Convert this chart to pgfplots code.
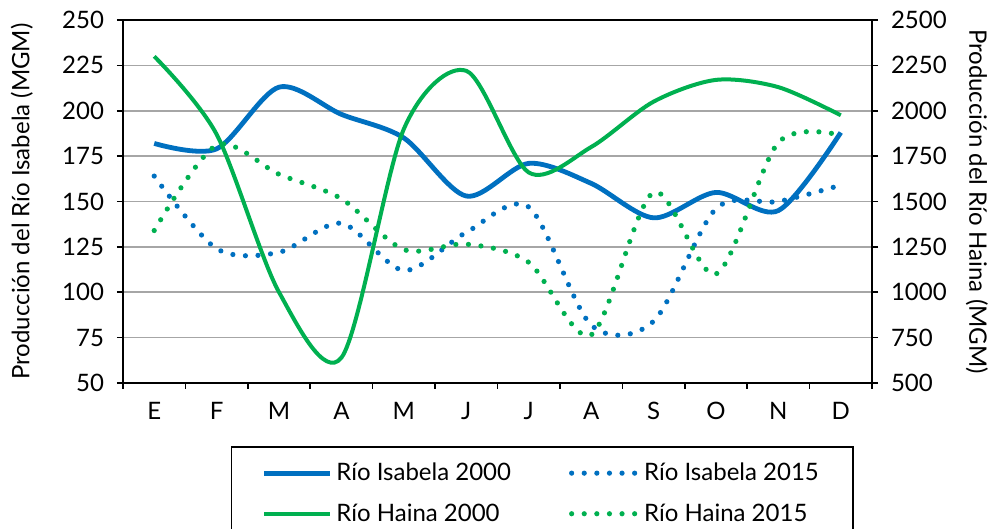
\documentclass[border=0pt]{standalone}
\usepackage{pgfplots}
\pgfplotsset{compat=1.18}
\usepackage{fontspec}
\setmainfont{Lato}
\definecolor{isab}{HTML}{0070C0}
\definecolor{hain}{HTML}{00B050}

\begin{document}
\begin{tikzpicture}
\pgfplotsset{
  base/.style={
    scale only axis, width=374.5pt, height=181.5pt,
    xmin=0.5, xmax=12.5,
    /pgf/number format/assume math mode=true,
    /pgf/number format/1000 sep={},
    tick label style={font=\fontsize{12}{14}\selectfont},
    tick align=outside, major tick length=3pt, minor tick length=3pt,
    tick style={black, line width=0.8pt},
    axis line style={line width=1pt},
  },
  solid line/.style={#1, line width=2.4pt, smooth, no markers},
  dot line/.style={#1, line width=2.6pt, line cap=round, dash pattern=on 0pt off 6.3pt, smooth, no markers},
}
% left axis: Rio Isabela
\begin{axis}[base,
  ymin=50, ymax=250, ytick={50,75,...,250}, ytick pos=left,
  xtick={1,...,12}, xticklabels={E,F,M,A,M,J,J,A,S,O,N,D},
  minor xtick={0.5,1.5,...,12.5}, xtick pos=left,
  major x tick style={draw=none},
  xticklabel style={yshift=-3pt},
  yticklabel style={xshift=-3pt},
  ymajorgrids, grid style={gray!70, line width=0.8pt},
  every axis y label/.style={at={(rel axis cs:-0.135,0.5)}, anchor=center, rotate=90},
  ylabel={\fontsize{12}{14}\selectfont Producción del Río Isabela (MGM)},
]
\addplot[solid line=isab] coordinates {
  (1,182) (2,179) (3,213) (4,198) (5,185) (6,153)
  (7,171) (8,160) (9,141) (10,155) (11,145) (12,188)};
\addplot[dot line=isab] coordinates {
  (1,164) (2,124) (3,122) (4,138) (5,112) (6,133)
  (7,147) (8,82) (9,84) (10,146) (11,150) (12,159)};
\end{axis}
% right axis: Rio Haina
\begin{axis}[base,
  ymin=500, ymax=2500, ytick={500,750,...,2500},
  axis y line*=right, axis x line=none,
  yticklabel style={xshift=3pt},
  every axis y label/.style={at={(rel axis cs:1.14,0.5)}, anchor=center, rotate=-90},
  ylabel={\fontsize{12}{14}\selectfont Producción del Río Haina (MGM)},
  legend columns=2, legend cell align=left,
  legend image code/.code={\draw[#1] (0pt,0pt) -- (33pt,0pt);},
  legend style={at={(0.144,-0.1736)}, anchor=north west, draw=black, line width=0.8pt,
    font=\fontsize{12}{14}\selectfont, inner xsep=15pt, inner ysep=6pt, row sep=6pt,
    /tikz/every even column/.append style={column sep=27pt}},
]
\addlegendimage{solid line=isab}
\addlegendentry{Río Isabela 2000}
\addlegendimage{dot line=isab}
\addlegendentry{Río Isabela 2015}
\addplot[solid line=hain, line width=2pt] coordinates {
  (1,2300) (2,1870) (3,1000) (4,640) (5,1900) (6,2220)
  (7,1660) (8,1800) (9,2050) (10,2170) (11,2130) (12,1975)};
\addlegendentry{Río Haina 2000}
\addplot[dot line=hain] coordinates {
  (1,1340) (2,1810) (3,1650) (4,1515) (5,1235) (6,1265)
  (7,1165) (8,765) (9,1550) (10,1100) (11,1825) (12,1865)};
\addlegendentry{Río Haina 2015}
\end{axis}
\pgfresetboundingbox
\path[use as bounding box] ([xshift=-61.5pt,yshift=-73pt]current axis.south west)
  rectangle ([xshift=59pt,yshift=10pt]current axis.north east);
\end{tikzpicture}
\end{document}
